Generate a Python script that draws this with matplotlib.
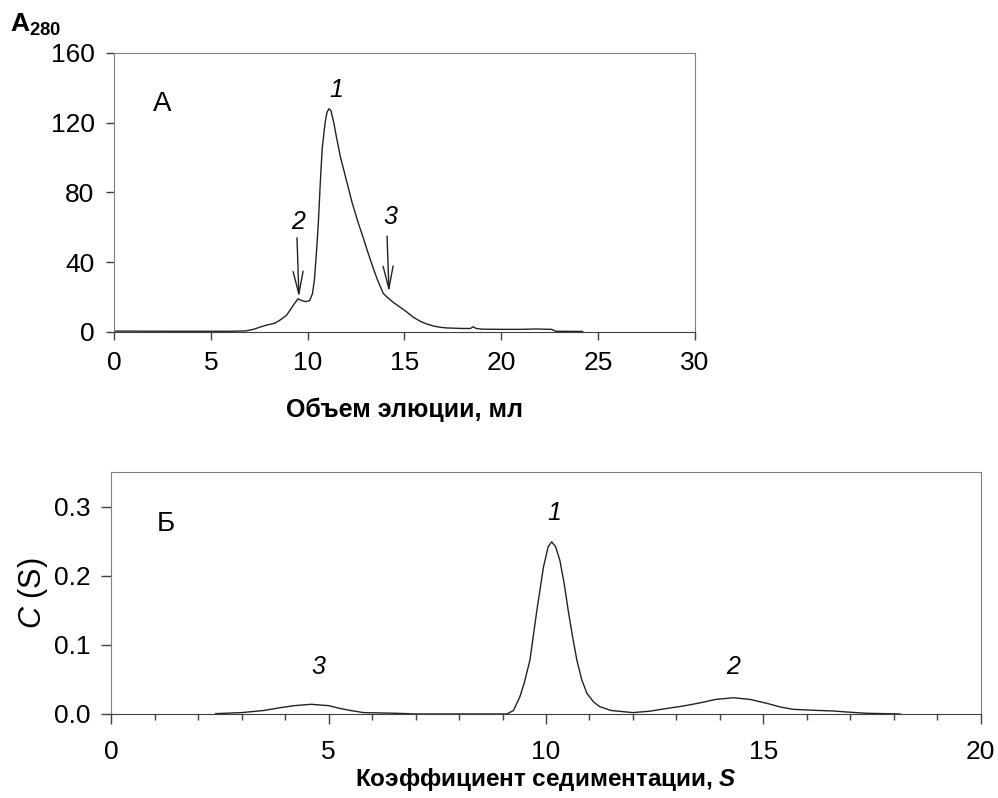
import matplotlib
matplotlib.use("Agg")
import matplotlib.pyplot as plt
from matplotlib.ticker import MultipleLocator, FormatStrFormatter

plt.rcParams['font.family'] = ['Liberation Sans', 'DejaVu Sans']
plt.rcParams['mathtext.fontset'] = 'custom'
plt.rcParams['mathtext.rm'] = 'Liberation Sans'
plt.rcParams['mathtext.it'] = 'Liberation Sans:italic'
plt.rcParams['mathtext.bf'] = 'Liberation Sans:bold'
plt.rcParams['mathtext.bfit'] = 'Liberation Sans:italic:bold'

# Panel A: elution profile, A280 vs elution volume (ml)
vol = [0.0, 3.0, 6.0, 6.8, 7.2, 7.6, 7.9, 8.3, 8.6, 8.9, 9.1, 9.3, 9.5, 9.7,
       9.9, 10.1, 10.25, 10.35, 10.45, 10.55, 10.65, 10.75, 10.9, 11.0, 11.1,
       11.2, 11.35, 11.5, 11.7, 11.84, 12.0, 12.3, 12.6, 12.87, 13.1, 13.39,
       13.6, 13.9, 14.1, 14.42, 14.8, 15.1, 15.45, 15.8, 16.14, 16.5, 16.83,
       17.2, 18.0, 18.4, 18.55, 18.7, 19.0, 20.0, 21.0, 21.8, 22.6, 22.8, 24.2]
a280 = [0.5, 0.4, 0.4, 0.6, 1.5, 3.0, 4.0, 5.0, 7.0, 9.5, 12.6, 16.0, 19.0, 18.0,
        17.4, 18.0, 22.0, 30.0, 45.0, 62.0, 85.0, 105.0, 120.0, 126.0, 128.0,
        127.0, 120.0, 111.0, 100.0, 94.0, 87.0, 74.0, 63.0, 54.0, 46.0, 36.5,
        30.0, 22.2, 20.0, 17.0, 14.0, 11.6, 8.5, 6.2, 4.6, 3.4, 2.7,
        2.3, 2.0, 2.0, 3.0, 2.0, 1.6, 1.5, 1.5, 1.7, 1.5, 0.4, 0.3]

# Panel B: sedimentation coefficient distribution c(S)
sed = [2.4, 3.0, 3.5, 3.88, 4.2, 4.6, 5.0, 5.26, 5.5, 5.8, 6.56, 7.0,
       9.1, 9.25, 9.4, 9.5, 9.63, 9.79, 9.94, 10.05, 10.13, 10.22, 10.32,
       10.42, 10.51, 10.61, 10.71, 10.82, 10.94, 11.1, 11.24, 11.5, 12.0,
       12.39, 12.78, 13.16, 13.54, 13.9, 14.31, 14.7, 15.08, 15.4, 15.69,
       16.1, 16.61, 17.0, 17.38, 18.15]
cs = [0.0005, 0.002, 0.005, 0.009, 0.012, 0.014, 0.012, 0.008, 0.005, 0.002, 0.001, 0.0,
      0.0, 0.005, 0.025, 0.045, 0.078, 0.150, 0.212, 0.242, 0.249, 0.242, 0.222,
      0.188, 0.150, 0.112, 0.078, 0.050, 0.030, 0.017, 0.0105, 0.005, 0.002,
      0.004, 0.008, 0.0115, 0.016, 0.021, 0.0235, 0.021, 0.0154, 0.010, 0.0067,
      0.0055, 0.0043, 0.0025, 0.001, 0.0]

# peak labels: (text, x, y)
peaks_a = [("1", 11.5, 139), ("2", 9.5, 63), ("3", 14.25, 66)]
arrows_a = [(9.45, 54, 20), (14.1, 55, 23)]  # x, y_from, y_to
peaks_b = [("1", 10.2, 0.29), ("2", 14.3, 0.068), ("3", 4.75, 0.068)]

fig = plt.figure(figsize=(9.98, 7.98), dpi=100)
ax1 = fig.add_axes([0.1142, 0.5840, 0.5822, 0.3496])
ax2 = fig.add_axes([0.1117, 0.1053, 0.8708, 0.3032])

frame_dark = '#404040'
frame_light = '#808080'
line_col = '#222222'

# --- Panel A ---
ax1.plot(vol, a280, color=line_col, lw=1.0)
ax1.set_xlim(0, 30)
ax1.set_ylim(0, 160)
ax1.xaxis.set_major_locator(MultipleLocator(5))
ax1.yaxis.set_major_locator(MultipleLocator(40))
ax1.tick_params(direction='out', length=6, width=1, labelsize=19,
                color=frame_dark, pad=8)
for side in ['left', 'top', 'right']:
    ax1.spines[side].set_color(frame_light)
ax1.spines['bottom'].set_color(frame_dark)
ax1.set_xlabel("Объем элюции, мл", fontsize=18, fontweight='bold', labelpad=16)
ax1.text(2.5, 131, "А", fontsize=20, ha='center', va='center')
for t, x, y in peaks_a:
    ax1.text(x, y, t, fontsize=18, style='italic', ha='center', va='center')
for x, y0, y1 in arrows_a:
    ax1.annotate("", xy=(x + 0.1, y1), xytext=(x, y0),
                 arrowprops=dict(arrowstyle='->,head_length=0.9,head_width=0.2',
                                 color=line_col, lw=1.0, mutation_scale=18,
                                 shrinkA=0, shrinkB=0))
fig.text(0.010, 0.960, r"$\mathbf{A}_{\mathbf{280}}$", fontsize=19)

# --- Panel B ---
ax2.plot(sed, cs, color=line_col, lw=1.0)
ax2.set_xlim(0, 20)
ax2.set_ylim(0, 0.35)
ax2.xaxis.set_major_locator(MultipleLocator(5))
ax2.xaxis.set_minor_locator(MultipleLocator(1))
ax2.yaxis.set_major_locator(MultipleLocator(0.1))
ax2.yaxis.set_major_formatter(FormatStrFormatter('%.1f'))
ax2.tick_params(which='major', direction='out', length=7, width=1, labelsize=19,
                color=frame_dark)
ax2.tick_params(axis='x', which='major', pad=12)
ax2.tick_params(axis='y', which='major', pad=8)
ax2.tick_params(which='minor', direction='out', length=4, width=1, color=frame_dark)
ax2.tick_params(axis='y', which='minor', length=0)
for side in ['left', 'top', 'right']:
    ax2.spines[side].set_color(frame_light)
ax2.spines['bottom'].set_color(frame_dark)
ax2.set_xlabel(r"Коэффициент седиментации, $\mathbfit{S}$", fontsize=17.5,
               fontweight='bold', labelpad=1)
ax2.set_ylabel(r"$\it{C}$ (S)", fontsize=22, labelpad=3)
ax2.text(1.25, 0.275, "Б", fontsize=20, ha='center', va='center')
for t, x, y in peaks_b:
    ax2.text(x, y, t, fontsize=18, style='italic', ha='center', va='center')

fig.savefig("out.png", dpi=100)
